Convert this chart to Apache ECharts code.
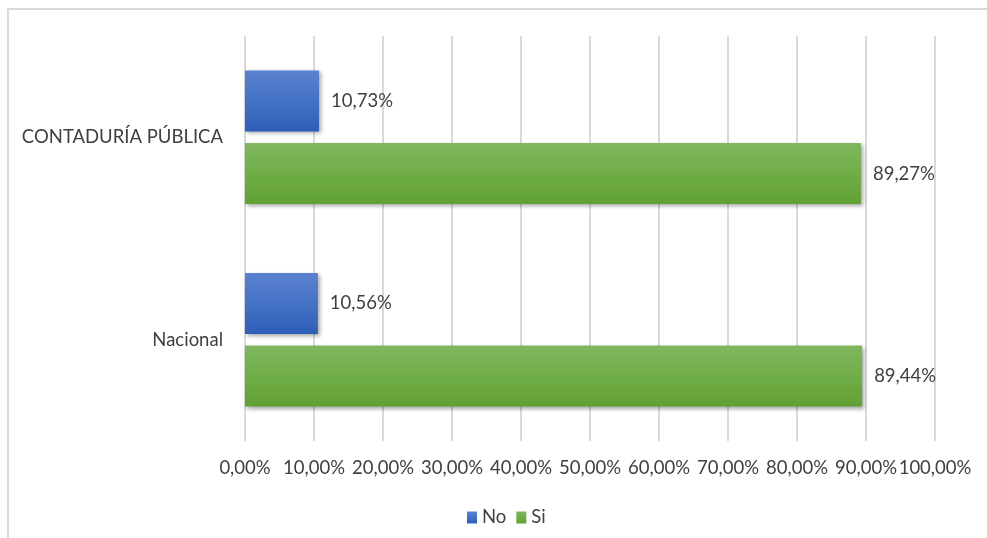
<!DOCTYPE html>
<html>
<head>
<meta charset="utf-8">
<script src="https://cdn.jsdelivr.net/npm/echarts@6/dist/echarts.min.js"></script>
<style>html,body{margin:0;padding:0;background:#fff;}#c{width:987px;height:538px;}</style>
</head>
<body>
<div id="c"></div>
<script>
var categories = ['Nacional', 'CONTADURÍA PÚBLICA'];
var seriesNames = ['No', 'Si'];
var noValues = [10.56, 10.73];
var siValues = [89.44, 89.27];
var xTicks = [0, 10, 20, 30, 40, 50, 60, 70, 80, 90, 100];

var FONT = 'Lato';
var TXT = '#404040';
var FS = 18.5;
function pct(v) { return v.toFixed(2).replace('.', ',') + '%'; }

var chart = echarts.init(document.getElementById('c'));
function grad(top, mid, bot) {
  return new echarts.graphic.LinearGradient(0, 0, 0, 1, [
    {offset: 0, color: top}, {offset: 0.5, color: mid}, {offset: 1, color: bot}
  ]);
}
var shadow = {shadowBlur: 4, shadowOffsetX: 2, shadowOffsetY: 2, shadowColor: 'rgba(0,0,0,0.35)'};
chart.setOption({
  animation: false,
  backgroundColor: '#fff',
  graphic: [{
    type: 'rect', shape: {x: 8, y: 9, width: 990, height: 540},
    style: {fill: 'none', stroke: '#d9d9d9', lineWidth: 2}, silent: true
  }],
  grid: {left: 245, right: 52, top: 36, bottom: 97},
  legend: {
    left: 462, top: 503, itemWidth: 10, itemHeight: 12, itemGap: 10,
    icon: 'rect',
    textStyle: {fontFamily: FONT, fontSize: FS, color: TXT},
    data: seriesNames
  },
  xAxis: {
    type: 'value', min: xTicks[0], max: xTicks[xTicks.length - 1], interval: 10,
    axisLine: {show: false}, axisTick: {show: false},
    splitLine: {show: true, lineStyle: {color: '#d9d9d9', width: 2}},
    axisLabel: {margin: 18, fontFamily: FONT, fontSize: FS, color: TXT, formatter: function (v) { return pct(v); }}
  },
  yAxis: {
    type: 'category', data: categories,
    axisLine: {show: false}, axisTick: {show: false},
    axisLabel: {margin: 22, fontFamily: FONT, fontSize: FS, color: TXT}
  },
  series: [{
    name: seriesNames[0], type: 'bar', data: noValues,
    barWidth: 61, barGap: '19%', barCategoryGap: '34%',
    itemStyle: Object.assign({color: grad('#5b81cf', '#4472c4', '#2f5eb8')}, shadow),
    label: {show: true, position: 'right', distance: 12, fontFamily: FONT, fontSize: FS, color: TXT, formatter: function (p) { return pct(p.value); }}
  }, {
    name: seriesNames[1], type: 'bar', data: siValues,
    barWidth: 61, barGap: '19%',
    itemStyle: Object.assign({color: grad('#80b760', '#70ad47', '#61a034')}, shadow),
    label: {show: true, position: 'right', distance: 12, fontFamily: FONT, fontSize: FS, color: TXT, formatter: function (p) { return pct(p.value); }}
  }]
});
</script>
</body>
</html>
